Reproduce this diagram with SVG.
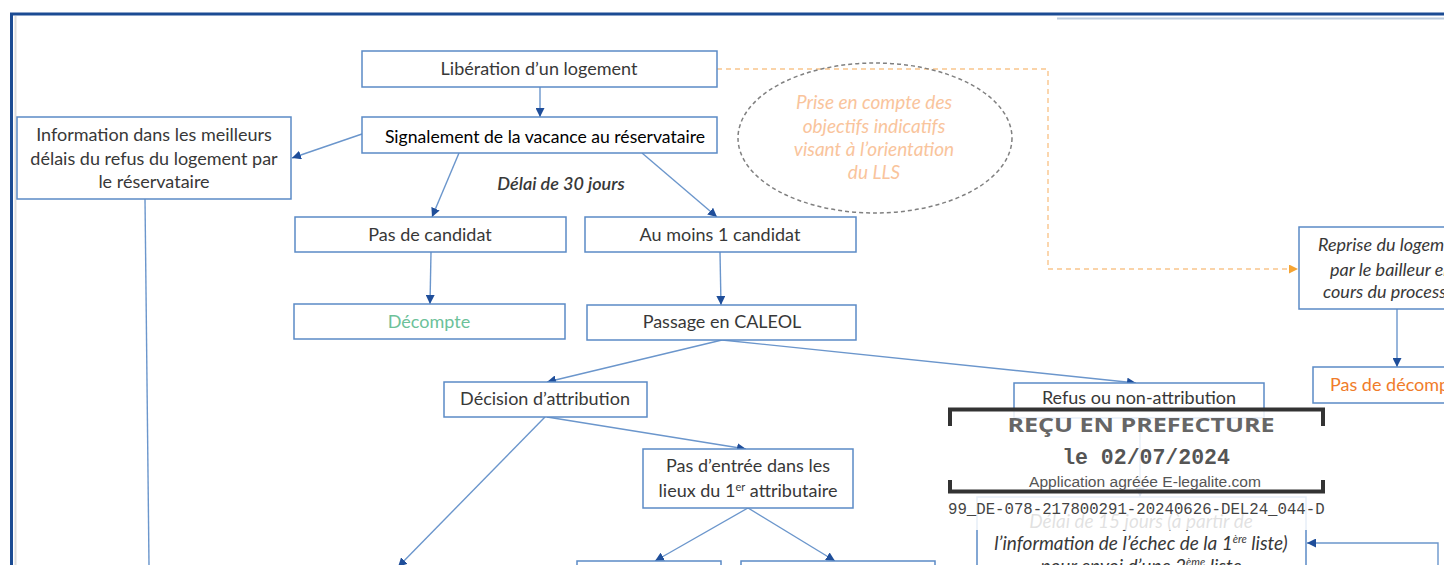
<svg xmlns="http://www.w3.org/2000/svg" width="1444" height="565" viewBox="0 0 1444 565">
<style>
.box{fill:#fff;stroke:#5b8ac6;stroke-width:1.5}
.t{font-family:Lato,"Open Sans",sans-serif;font-size:18px;fill:#383838;text-anchor:middle}
.it{font-style:italic}
.c{fill:none;stroke:#6b96cc;stroke-width:1.4}
.mono{font-family:"Liberation Mono",monospace}
</style>
<defs>
<marker id="ab" viewBox="0 0 10 10" refX="10" refY="5" markerWidth="9" markerHeight="9" markerUnits="userSpaceOnUse" orient="auto"><path d="M0,0 L10,5 L0,10 z" fill="#1f4e9a"/></marker>
<marker id="ao" viewBox="0 0 10 10" refX="10" refY="5" markerWidth="9" markerHeight="9" markerUnits="userSpaceOnUse" orient="auto"><path d="M0,0 L10,5 L0,10 z" fill="#f5a433"/></marker>
</defs>
<rect width="1444" height="565" fill="#fff"/>
<!-- frame -->
<line x1="10" y1="14" x2="1444" y2="14" stroke="#1b4b93" stroke-width="3"/>
<line x1="11.5" y1="13" x2="11.5" y2="565" stroke="#1b4b93" stroke-width="3"/>
<line x1="15.5" y1="16" x2="15.5" y2="565" stroke="#dcdcdc" stroke-width="2"/>
<line x1="1057" y1="18.5" x2="1444" y2="18.5" stroke="#bccbdd" stroke-width="2"/>

<g id="connectors">
<line class="c" x1="540" y1="87" x2="540" y2="117" marker-end="url(#ab)"/>
<line class="c" x1="362" y1="134" x2="292" y2="158" marker-end="url(#ab)"/>
<line class="c" x1="459" y1="153" x2="432" y2="217" marker-end="url(#ab)"/>
<line class="c" x1="642" y1="153" x2="717" y2="217" marker-end="url(#ab)"/>
<line class="c" x1="431" y1="252" x2="430" y2="304" marker-end="url(#ab)"/>
<line class="c" x1="720" y1="252" x2="721" y2="305" marker-end="url(#ab)"/>
<line class="c" x1="722" y1="340" x2="547" y2="382" marker-end="url(#ab)"/>
<line class="c" x1="722" y1="340" x2="1136" y2="383" marker-end="url(#ab)"/>
<line class="c" x1="145" y1="199" x2="149" y2="565"/>
<line class="c" x1="545" y1="417" x2="398" y2="567" marker-end="url(#ab)"/>
<line class="c" x1="547" y1="417" x2="746" y2="449" marker-end="url(#ab)"/>
<line class="c" x1="748" y1="508" x2="655" y2="561" marker-end="url(#ab)"/>
<line class="c" x1="748" y1="508" x2="835" y2="561" marker-end="url(#ab)"/>
<line class="c" x1="1397" y1="309" x2="1397" y2="367" marker-end="url(#ab)"/>
<line class="c" x1="1140" y1="418" x2="1140" y2="497" marker-end="url(#ab)"/>
<polyline class="c" points="1438,565 1438,543 1307,543" marker-end="url(#ab)"/>
<polyline points="717,69 1048,69 1048,269 1298,269" fill="none" stroke="#f9c58c" stroke-width="1.4" stroke-dasharray="5,4" marker-end="url(#ao)"/>
</g>

<g id="liberation"><rect class="box" x="362" y="51" width="355" height="36"/><text class="t" x="539" y="75">Libération d’un logement</text></g>
<g id="signalement"><rect class="box" x="362" y="117" width="355" height="36"/><text class="t" x="545" y="143" style="fill:#000;font-size:17.6px">Signalement de la vacance au réservataire</text></g>
<g id="information"><rect class="box" x="17" y="117" width="274" height="82"/>
<text class="t" x="154" y="141">Information dans les meilleurs</text>
<text class="t" x="154" y="165">délais du refus du logement par</text>
<text class="t" x="154" y="188">le réservataire</text></g>
<g id="delai30"><text class="t it" x="561" y="190" style="font-weight:600">Délai de 30 jours</text></g>
<g id="ellipse"><ellipse cx="875" cy="138" rx="137" ry="75" fill="none" stroke="#808080" stroke-width="1.5" stroke-dasharray="4,3"/>
<text class="t it" x="874" y="109" style="fill:#f9c49c;font-size:19px">Prise en compte des</text>
<text class="t it" x="874" y="133" style="fill:#f9c49c;font-size:19px">objectifs indicatifs</text>
<text class="t it" x="874" y="156" style="fill:#f9c49c;font-size:19px">visant à l’orientation</text>
<text class="t it" x="874" y="179" style="fill:#f9c49c;font-size:19px">du LLS</text></g>
<g id="pascandidat"><rect class="box" x="295" y="217" width="271" height="35"/><text class="t" x="430" y="241">Pas de candidat</text></g>
<g id="aumoins"><rect class="box" x="585" y="217" width="271" height="35"/><text class="t" x="720" y="241">Au moins 1 candidat</text></g>
<g id="decompte"><rect class="box" x="294" y="304" width="271" height="35"/><text class="t" x="429" y="328" style="fill:#6cc199">Décompte</text></g>
<g id="caleol"><rect class="box" x="587" y="305" width="269" height="35"/><text class="t" x="722" y="328">Passage en CALEOL</text></g>
<g id="decision"><rect class="box" x="444" y="382" width="203" height="35"/><text class="t" x="545" y="405">Décision d’attribution</text></g>
<g id="refus"><rect class="box" x="1014" y="383" width="250" height="35"/><text class="t" x="1139" y="404">Refus ou non-attribution</text></g>
<g id="pasentree"><rect class="box" x="643" y="449" width="210" height="59"/>
<text class="t" x="748" y="472">Pas d’entrée dans les</text>
<text class="t" x="748" y="497">lieux du 1<tspan font-size="11" dy="-6">er</tspan><tspan dy="6"> attributaire</tspan></text></g>
<g id="bas1"><rect class="box" x="577" y="561" width="144" height="20"/></g>
<g id="bas2"><rect class="box" x="741" y="561" width="194" height="20"/></g>
<g id="reprise"><rect class="box" x="1299" y="227" width="160" height="82"/>
<text class="t it" x="1318" y="251" style="text-anchor:start">Reprise du logement</text>
<text class="t it" x="1330" y="276" style="text-anchor:start">par le bailleur en</text>
<text class="t it" x="1323" y="298" style="text-anchor:start">cours du processus</text></g>
<g id="pasdecompte"><rect class="box" x="1313" y="367" width="150" height="36"/><text class="t" x="1330" y="391" style="text-anchor:start;fill:#f07c2a">Pas de décompte</text></g>
<g id="delai15"><rect class="box" x="977" y="497" width="329" height="90"/>
<text class="t it" x="1141" y="528" style="font-size:19px">Délai de 15 jours (à partir de</text>
<text class="t it" x="1141" y="550" style="font-size:19px">l’information de l’échec de la 1<tspan font-size="11" dy="-7">ère</tspan><tspan dy="7"> liste)</tspan></text>
<text class="t it" x="1141" y="573" style="font-size:19px">pour envoi d’une 2<tspan font-size="11" dy="-7">ème</tspan><tspan dy="7"> liste</tspan></text></g>

<g id="stamp">
<rect x="948" y="408" width="377" height="122" fill="#fff" opacity="0.85"/>
<path d="M950,426 V409.5 H1323 V426" fill="none" stroke="#333" stroke-width="4"/>
<path d="M950,480 V491.5 H1323 V480" fill="none" stroke="#333" stroke-width="4"/>
<text x="1141" y="432" text-anchor="middle" font-family="'Open Sans',sans-serif" font-size="20" font-weight="bold" fill="#666" textLength="267" lengthAdjust="spacingAndGlyphs">REÇU EN PREFECTURE</text>
<text x="1146" y="464" text-anchor="middle" class="mono" font-size="21.5" font-weight="bold" fill="#555">le 02/07/2024</text>
<text x="1145" y="487" text-anchor="middle" font-family="'Liberation Sans Narrow','Liberation Sans',sans-serif" font-size="14" fill="#555" textLength="232" lengthAdjust="spacingAndGlyphs">Application agréée E-legalite.com</text>
<text x="948" y="514" class="mono" font-size="15.7" fill="#444">99_DE-078-217800291-20240626-DEL24_044-D</text>
</g>
</svg>
